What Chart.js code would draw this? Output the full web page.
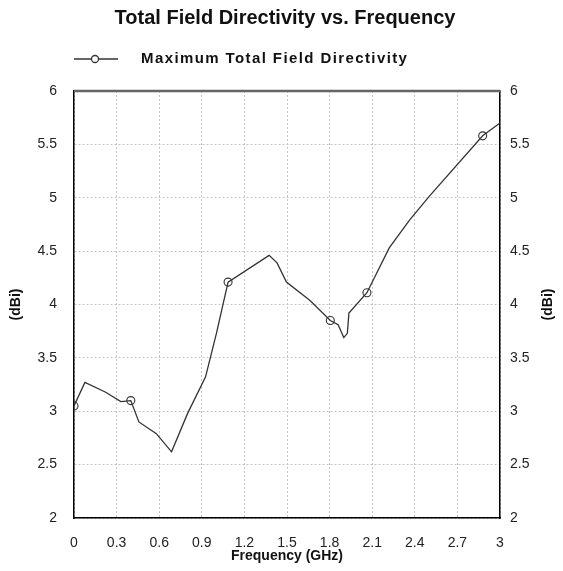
<!DOCTYPE html>
<html lang="en">
<head>
<meta charset="UTF-8" />
<style>
  html, body { margin: 0; padding: 0; background: #fff; }
</style>
</head>
<body>
<canvas id="myChart" width="563" height="571"></canvas>
<script src="https://cdn.jsdelivr.net/npm/chart.js@4.4.0/dist/chart.umd.min.js"></script>
<script>
// values
var frequency = [0, 0.077, 0.22, 0.33, 0.40, 0.457, 0.58, 0.687, 0.80, 0.926, 1.003, 1.085,
  1.374, 1.43, 1.496, 1.66, 1.805, 1.86, 1.90, 1.925, 1.936, 2.063, 2.22, 2.363, 2.50, 2.878, 3.0];
var directivity = [3.05, 3.27, 3.18, 3.09, 3.10, 2.90, 2.79, 2.62, 2.98, 3.32, 3.73, 4.21,
  4.46, 4.39, 4.21, 4.04, 3.85, 3.81, 3.69, 3.73, 3.92, 4.11, 4.53, 4.79, 5.01, 5.58, 5.70];
var markedFrequency = [0, 0.40, 1.085, 1.805, 2.063, 2.878];
var xTicks = [0, 0.3, 0.6, 0.9, 1.2, 1.5, 1.8, 2.1, 2.4, 2.7, 3];
var yTicks = [2, 2.5, 3, 3.5, 4, 4.5, 5, 5.5, 6];

var chartTitle = "Total Field Directivity vs. Frequency";
var seriesName = "Maximum Total Field Directivity";
var xTitle = "Frequency (GHz)";
var yTitle = "(dBi)";

var FONT = "'Liberation Sans', Arial, sans-serif";
Chart.defaults.font.family = FONT;

var points = frequency.map(function (f, i) {
  return { x: f, y: directivity[i] };
});

// title, legend, box top edge and right axis title
var decor = {
  id: "decor",
  afterDraw: function (chart) {
    var c = chart.ctx, a = chart.chartArea;
    c.save();
    c.fillStyle = "#111";
    c.textAlign = "center";
    c.textBaseline = "middle";
    c.font = "bold 20px " + FONT;
    c.fillText(chartTitle, 285, 18);

    c.strokeStyle = "#333";
    c.lineWidth = 1.3;
    c.beginPath();
    c.moveTo(74, 59);
    c.lineTo(118, 59);
    c.stroke();
    c.beginPath();
    c.arc(95, 59, 3.5, 0, Math.PI * 2);
    c.fillStyle = "#fff";
    c.fill();
    c.stroke();
    c.fillStyle = "#111";
    c.textAlign = "left";
    c.font = "bold 15px " + FONT;
    c.letterSpacing = "1.4px";
    c.fillText(seriesName, 141, 59);
    c.letterSpacing = "0px";

    c.strokeStyle = "#666";
    c.lineWidth = 2.5;
    c.beginPath();
    c.moveTo(a.left, a.top);
    c.lineTo(a.right, a.top);
    c.stroke();

    c.translate(548, (a.top + a.bottom) / 2);
    c.rotate(-Math.PI / 2);
    c.textAlign = "center";
    c.font = "bold 14px " + FONT;
    c.fillText(yTitle, 0, 0);
    c.restore();
  }
};

var tickFont = { size: 14 };
var ctx = document.getElementById("myChart").getContext("2d");
var chart = new Chart(ctx, {
  type: "line",
  data: {
    datasets: [
      {
        label: seriesName,
        data: points,
        borderColor: "#333",
        borderWidth: 1.3,
        tension: 0,
        pointRadius: function (c) {
          return markedFrequency.indexOf(frequency[c.dataIndex]) >= 0 ? 4 : 0;
        },
        pointBorderColor: "#333",
        pointBackgroundColor: "rgba(0,0,0,0)",
        pointBorderWidth: 1.1,
      },
    ],
  },
  options: {
    responsive: false,
    animation: false,
    devicePixelRatio: 1,
    layout: { padding: { top: 91, left: 0, right: 0, bottom: 0 } },
    plugins: {
      legend: { display: false },
      title: { display: false },
      tooltip: { enabled: false },
    },
    scales: {
      x: {
        type: "linear",
        min: 0,
        max: 3,
        afterBuildTicks: function (s) {
          s.ticks = xTicks.map(function (v) { return { value: v }; });
        },
        afterFit: function (s) { s.height = 53; },
        ticks: {
          font: tickFont,
          color: "#222",
          padding: 17,
          maxRotation: 0,
          callback: function (v) { return String(v); },
        },
        grid: { color: "#c4c4c4", lineWidth: 1, drawTicks: false },
        border: { color: "#000", width: 1.5, dash: [2, 2] },
        title: {
          display: true,
          text: xTitle,
          font: { size: 14, weight: "bold" },
          color: "#111",
          padding: { top: 0, bottom: 6 },
        },
      },
      y: {
        position: "left",
        min: 2,
        max: 6,
        afterBuildTicks: function (s) {
          s.ticks = yTicks.map(function (v) { return { value: v }; });
        },
        afterFit: function (s) { s.width = 74; },
        ticks: {
          font: tickFont,
          color: "#222",
          padding: 17,
          callback: function (v) { return String(v); },
        },
        grid: { color: "#c4c4c4", lineWidth: 1, drawTicks: false },
        border: { color: "#000", width: 1.5, dash: [2, 2] },
        title: {
          display: true,
          text: yTitle,
          font: { size: 14, weight: "bold" },
          color: "#111",
          padding: { top: 8, bottom: 0 },
        },
      },
      y2: {
        position: "right",
        min: 2,
        max: 6,
        afterBuildTicks: function (s) {
          s.ticks = yTicks.map(function (v) { return { value: v }; });
        },
        afterFit: function (s) { s.width = 63; },
        ticks: {
          font: tickFont,
          color: "#222",
          padding: 10,
          callback: function (v) { return String(v); },
        },
        grid: { display: false, drawTicks: false },
        border: { color: "#000", width: 1.5 },
      },
    },
  },
  plugins: [decor],
});
</script>
</body>
</html>
